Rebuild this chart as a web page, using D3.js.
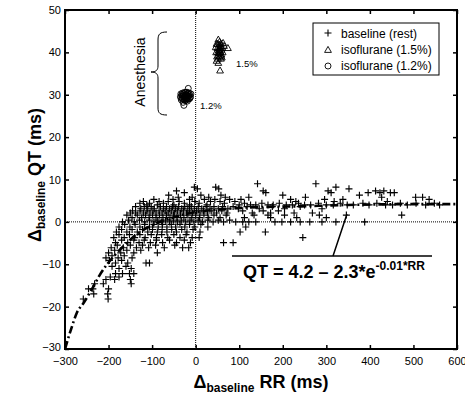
<!DOCTYPE html>
<html><head><meta charset="utf-8">
<script src="https://cdn.jsdelivr.net/npm/d3@7"></script>
<style>
body{margin:0;background:#fff}
svg{display:block}
text{font-family:"Liberation Sans",Arial,Helvetica,sans-serif;fill:#000}
</style>
</head><body>
<svg id="c" width="465" height="396"></svg>
<script>
// ---------------- data ----------------
const xTicks = [-300,-200,-100,0,100,200,300,400,500,600];
const yTicks = [-30,-20,-10,0,10,20,30,40,50];

// baseline (rest): rows of [QT, [RR values]]
const baselineRows = [
  [9.0,  [142, 276]],
  [8.2,  [-3, 46, 322]],
  [7.8,  [4, 53, 352]],
  [7.3,  [-44, 155, 304, 413, 432]],
  [6.9,  [-26, 161, 311, 396, 423, 447, 456]],
  [6.3,  [-62, 12, 58, 200, 376]],
  [5.8,  [-40, -8, 30, 68, 122, 252, 427, 505, 521]],
  [5.3,  [-96, -52, -14, 20, 44, 78, 104, 218, 296, 338, 536]],
  [4.8,  [-120, -84, -63, -38, -2, 34, 56, 90, 230, 318, 440]],
  [4.4,  [-128, -106, -74, -26, 8, 66, 112, 152, 192, 236, 282, 332, 384, 416, 470, 506, 548]],
  [4.0,  [-112, -88, -50, -14, 26, 100, 126, 138, 166, 178, 208, 222, 250, 264, 300, 316, 348, 362, 398, 436, 452, 486, 528, 560]],
  [3.6,  [-138, -118, -102, -81, -67, -53, -39, -25, -10, 6, 24, 42, 62, 86, 118, 176, 240]],
  [3.1,  [-126, -110, -95, -74, -60, -46, -32, -18, -3, 14, 33, 52, 74, 98, 146, 204, 290]],
  [2.6,  [-145, -128, -112, -98, -84, -70, -56, -42, -28, -14, 2, 18, 37, 60, 108, 155, 190]],
  [2.1,  [-150, -138, -120, -105, -91, -77, -63, -49, -35, -21, -7, 10, 27, 48, 72, 130, 172, 226, 268]],
  [1.6,  [-158, -134, -115, -99, -83, -67, -51, -35, -18, 0, 19, 42, 70, 134, 166, 204, 284, 346, 473]],
  [1.0,  [-146, -124, -107, -91, -75, -59, -43, -27, -9, 9, 30, 56, 112, 172, 232, 300]],
  [0.4,  [-154, -129, -106, -87, -69, -51, -33, -13, 6, 28, 52, 78]],
  [0.0,  [-168, -141, -117, -96, -78, -60, -42, -23, -4, 16, 40, 64, 92, 108, 122, 138, 182, 198, 218, 240, 262, 290, 322, 388]],
  [-0.6, [-163, -139, -117, -96, -76, -56, -36, -14, 12]],
  [-1.2, [-176, -151, -128, -106, -86, -66, -46, -25, -2, 28, 115]],
  [-1.8, [-170, -146, -122, -99, -77, -55, -32, -6]],
  [-2.4, [-182, -158, -134, -110, -88, -66, -44, -20, 10, 102, 160]],
  [-3.0, [-176, -152, -128, -102, -78, -50, -22]],
  [-3.7, [-188, -164, -140, -116, -90, -64, -36, -8, 8, 246]],
  [-4.3, [-170, -142, -118, -90, -60, -26]],
  [-4.9, [-184, -156, -130, -104, -76, -44, -12, 64, 86]],
  [-5.5, [-180, -150, -122, -92, -48]],
  [-6.1, [-194, -166, -136, -108, -72, -30, -16]],
  [-6.7, [-186, -158, -126]],
  [-7.3, [-200, -172, -142, -88]],
  [-8.0, [-192, -164]],
  [-8.5, [-206, -178, -146]],
  [-9.1, [-198, -170]],
  [-9.7, [-184, -156, -114, -106]],
  [-10.5,[-192, -160]],
  [-11.0,[-176, -148]],
  [-12.2,[-184, -168, -152, -142]],
  [-13.0,[-196, -176]],
  [-13.6,[-206, -186, -150]],
  [-14.6,[-232, -212, -148]],
  [-15.8,[-246, -236, -200]],
  [-17.0,[-234, -202]],
  [-18.2,[-258, -201]]
];

// isoflurane 1.5 % : [RR, QT]
const iso15 = [[48,42],[52,43],[55,42.5],[58,42],[50,41],[54,41],[57,41.5],[61,41],[65,41.5],[74,41],
  [47,40],[51,40],[53,39.8],[56,40.2],[59,39.5],[62,40],[49,39],[55,39],[60,38.8],[48,38],
  [52,37.5],[58,38.5],[56,35.7],[53,40.5],[57,40],[50,42],[54,41.8],[56,41],[52,39.2],[59,40.6],
  [63,42.2],[46,41.2],[51,38.5],[55,40.6],[58,39.2]];
// isoflurane 1.2 % : [RR, QT]
const iso12 = [[-35,29.5],[-32,30],[-30,29],[-28,30.2],[-26,29.4],[-24,28.6],[-22,30],[-20,29.2],
  [-18,30.3],[-16,29.7],[-14,30],[-12,29.5],[-33,28.8],[-29,28.2],[-25,29.8],[-21,28.8],[-17,31.5],
  [-27,27.5],[-23,30.6],[-19,28.5],[-15,29],[-11,30.2],[-31,29.6],[-34,30.2],[-30,30.4],[-27,29],
  [-24,29.6],[-21,29.9],[-18,29],[-15,30.4],[-29,29.8],[-25,28.9],[-22,29.3],[-19,29.7],[-32,29.2],
  [-13,29.2],[-26,30.5],[-20,30.6]];

// fitted curve
const fitRR = [-300,-285,-273,-257,-239,-220,-201,-178,-158,-140,-120,-100,-80,-60,-40,-20,0,20,50,80,100,150,200,250,300,350,400,500,600];
const fitQT = [-30,-25,-21.5,-19.1,-16,-12.5,-9.7,-7,-5,-3.3,-1.9,-0.8,0.1,0.8,1.4,1.9,2.3,2.6,2.9,3.15,3.3,3.5,3.6,3.7,3.85,4.0,4.1,4.2,4.2];

const legendLabels = ["baseline (rest)", "isoflurane (1.5%)", "isoflurane (1.2%)"];

// ---------------- drawing ----------------
const svg = d3.select("#c");
const X0 = 65, X1 = 457, Y0 = 10, Y1 = 349;
const x = d3.scaleLinear().domain([-300, 600]).range([X0, X1]);
const y = d3.scaleLinear().domain([-30, 50]).range([Y1, Y0]);

svg.append("defs").append("clipPath").attr("id","clip")
  .append("rect").attr("x",X0).attr("y",Y0).attr("width",X1-X0).attr("height",Y1-Y0);

// dotted zero lines
svg.append("line").attr("x1",x(0)).attr("x2",x(0)).attr("y1",Y0).attr("y2",Y1)
  .attr("stroke","#000").attr("stroke-width",1).attr("stroke-dasharray","1,1");
svg.append("line").attr("x1",X0).attr("x2",X1).attr("y1",y(0)).attr("y2",y(0))
  .attr("stroke","#000").attr("stroke-width",1).attr("stroke-dasharray","1,1");

const plot = svg.append("g").attr("clip-path","url(#clip)");

const baseline = [];
baselineRows.forEach(([qt, rrs]) => rrs.forEach(rr => baseline.push([rr, qt])));

const plusPath = "M-3.5,0H3.5M0,-3.5V3.5";
const triPath = "M0,-3.6L3.4,2.4L-3.4,2.4Z";

plot.append("g").selectAll("path").data(baseline).join("path")
  .attr("transform", d => `translate(${x(d[0])},${y(d[1])})`)
  .attr("d", plusPath).attr("stroke","#000").attr("stroke-width",1.15).attr("fill","none");

plot.append("g").selectAll("path").data(iso15).join("path")
  .attr("transform", d => `translate(${x(d[0])},${y(d[1])})`)
  .attr("d", triPath).attr("stroke","#000").attr("stroke-width",0.9).attr("fill","none");

plot.append("g").selectAll("circle").data(iso12).join("circle")
  .attr("cx", d => x(d[0])).attr("cy", d => y(d[1])).attr("r",3)
  .attr("stroke","#000").attr("stroke-width",0.9).attr("fill","none");

const fitData = fitRR.map((r,i) => [r, fitQT[i]]);
plot.append("path").datum(fitData)
  .attr("d", d3.line().x(d=>x(d[0])).y(d=>y(d[1])).curve(d3.curveMonotoneX))
  .attr("fill","none").attr("stroke","#000").attr("stroke-width",2.6)
  .attr("stroke-dasharray","8,3,2,3");

// axes
const fmt = d3.format("d");
const axB = svg.append("g").attr("transform",`translate(0,${Y1})`)
  .call(d3.axisBottom(x).tickValues(xTicks).tickFormat(fmt).tickSizeInner(-4).tickSizeOuter(0).tickPadding(8));
const axL = svg.append("g").attr("transform",`translate(${X0},0)`)
  .call(d3.axisLeft(y).tickValues(yTicks).tickFormat(fmt).tickSizeInner(-4).tickSizeOuter(0).tickPadding(4));
const axT = svg.append("g").attr("transform",`translate(0,${Y0})`)
  .call(d3.axisTop(x).tickValues(xTicks).tickFormat("").tickSizeInner(-4).tickSizeOuter(0));
const axR = svg.append("g").attr("transform",`translate(${X1},0)`)
  .call(d3.axisRight(y).tickValues(yTicks).tickFormat("").tickSizeInner(-4).tickSizeOuter(0));
[axB,axL,axT,axR].forEach(a => {
  a.select(".domain").remove();
  a.selectAll(".tick line").attr("stroke","#000").attr("stroke-width",1.5);
  a.selectAll(".tick text").attr("font-size",11).attr("font-family","Liberation Sans, Arial, sans-serif").attr("fill","#000");
});
axL.selectAll(".tick text").filter(d => d === -30).attr("dy","0.1em");

// frame
svg.append("rect").attr("x",X0).attr("y",Y0).attr("width",X1-X0).attr("height",Y1-Y0)
  .attr("fill","none").attr("stroke","#000").attr("stroke-width",2);

// axis titles
const xt = svg.append("text").attr("x",(X0+X1)/2).attr("y",388).attr("text-anchor","middle")
  .attr("font-weight","bold").attr("font-size",18);
xt.append("tspan").text("Δ");
xt.append("tspan").attr("font-size",12).attr("dy",4).text("baseline");
xt.append("tspan").attr("dy",-4).text(" RR (ms)");

const yt = svg.append("text").attr("transform","translate(41,175) rotate(-90)").attr("text-anchor","middle")
  .attr("font-weight","bold").attr("font-size",18);
yt.append("tspan").text("Δ");
yt.append("tspan").attr("font-size",12).attr("dy",4).text("baseline");
yt.append("tspan").attr("dy",-4).text(" QT (ms)");

// legend
const lg = svg.append("g");
lg.append("rect").attr("x",313).attr("y",23).attr("width",126).attr("height",52)
  .attr("fill","#fff").attr("stroke","#000").attr("stroke-width",1);
const rows = [34, 50, 66];
lg.append("path").attr("transform",`translate(328,${rows[0]-1})`).attr("d",plusPath).attr("stroke","#000").attr("stroke-width",1.1);
lg.append("path").attr("transform",`translate(328,${rows[1]})`).attr("d",triPath).attr("stroke","#000").attr("stroke-width",0.9).attr("fill","none");
lg.append("circle").attr("cx",328).attr("cy",rows[2]).attr("r",3).attr("stroke","#000").attr("stroke-width",0.9).attr("fill","none");
legendLabels.forEach((t,i) => lg.append("text").attr("x",341).attr("y",rows[i]+4).attr("font-size",12).text(t));

// annotations
svg.append("text").attr("transform","translate(145,72) rotate(-90)").attr("text-anchor","middle")
  .attr("font-size",14).text("Anesthesia");
svg.append("path").attr("d","M167,32 C160,32 158,34 158,40 L158,66 C158,70 156,72 151,72 C156,72 158,74 158,78 L158,108 C158,113 160,115 167,115")
  .attr("fill","none").attr("stroke","#000").attr("stroke-width",1);
svg.append("text").attr("x",236).attr("y",67).attr("font-size",9.5).text("1.5%");
svg.append("text").attr("x",200).attr("y",109).attr("font-size",9.5).text("1.2%");

// equation with leader lines
svg.append("line").attr("x1",232).attr("x2",432).attr("y1",256).attr("y2",256).attr("stroke","#000").attr("stroke-width",1.5);
svg.append("line").attr("x1",333).attr("y1",256).attr("x2",347).attr("y2",214).attr("stroke","#000").attr("stroke-width",1.5);
const eq = svg.append("text").attr("x",243).attr("y",278).attr("font-weight","bold").attr("font-size",18);
eq.append("tspan").text("QT = 4.2 – 2.3*e");
eq.append("tspan").attr("font-size",12).attr("dy",-8).text("-0.01*RR");
</script>
</body></html>
